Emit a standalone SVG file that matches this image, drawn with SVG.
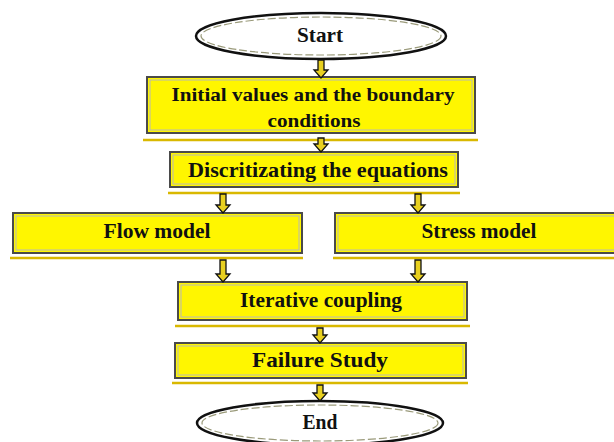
<svg xmlns="http://www.w3.org/2000/svg" width="614" height="442" viewBox="0 0 614 442">
<style>
.box{fill:#FFF600;stroke:#4a4a4a;stroke-width:2}
.inner{fill:none;stroke:#b8b8b8;stroke-width:1}
.shadow{stroke:#D9B800;stroke-width:2.5;fill:none}
.ell{fill:#fff;stroke:#111;stroke-width:2.5}
.ellin{fill:none;stroke:#9a9a7a;stroke-width:1.2;stroke-dasharray:8 3}
.arr{fill:#E8D020;stroke:#111;stroke-width:1.3;stroke-linejoin:miter}
text{font-family:"Liberation Serif","Times New Roman",serif;font-weight:bold;fill:#111;text-anchor:middle;dominant-baseline:central}
</style>
<rect width="614" height="442" fill="#fff"/>
<g id="start">
<ellipse class="ell" cx="321" cy="36" rx="125" ry="23"/>
<ellipse class="ellin" cx="321" cy="36" rx="120" ry="19"/>
<text x="320" y="35" font-size="21" textLength="46" lengthAdjust="spacingAndGlyphs">Start</text>
</g>
<g id="init">
<line class="shadow" x1="143" y1="140" x2="478" y2="140"/>
<rect class="box" x="147" y="77" width="328" height="56"/>
<rect class="inner" x="150" y="80" width="322" height="50"/>
<text x="313" y="94" font-size="19" textLength="283" lengthAdjust="spacingAndGlyphs">Initial values and the boundary</text>
<text x="314" y="120" font-size="19" textLength="93" lengthAdjust="spacingAndGlyphs">conditions</text>
</g>
<g id="discr">
<line class="shadow" x1="168" y1="193" x2="460" y2="193"/>
<rect class="box" x="170" y="152" width="288" height="35"/>
<rect class="inner" x="173" y="155" width="282" height="29"/>
<text x="318" y="170" font-size="21" textLength="260" lengthAdjust="spacingAndGlyphs">Discritizating the equations</text>
</g>
<g id="flow">
<line class="shadow" x1="10" y1="258" x2="303" y2="258"/>
<rect class="box" x="13" y="213" width="289" height="40"/>
<rect class="inner" x="16" y="216" width="283" height="34"/>
<text x="157" y="231" font-size="20" textLength="107" lengthAdjust="spacingAndGlyphs">Flow model</text>
</g>
<g id="stress">
<line class="shadow" x1="333" y1="258" x2="614" y2="258"/>
<rect class="box" x="335" y="213" width="285" height="40"/>
<rect class="inner" x="338" y="216" width="279" height="34"/>
<text x="479" y="231" font-size="20" textLength="115" lengthAdjust="spacingAndGlyphs">Stress model</text>
</g>
<g id="iter">
<line class="shadow" x1="175" y1="326" x2="470" y2="326"/>
<rect class="box" x="178" y="282" width="289" height="38"/>
<rect class="inner" x="181" y="285" width="283" height="32"/>
<text x="321" y="300" font-size="20" textLength="162" lengthAdjust="spacingAndGlyphs">Iterative coupling</text>
</g>
<g id="failure">
<line class="shadow" x1="172" y1="383" x2="468" y2="383"/>
<rect class="box" x="175" y="343" width="291" height="35"/>
<rect class="inner" x="178" y="346" width="285" height="29"/>
<text x="320" y="359" font-size="22" textLength="136" lengthAdjust="spacingAndGlyphs">Failure Study</text>
</g>
<g id="end">
<ellipse class="ell" cx="320" cy="423" rx="123" ry="22"/>
<ellipse class="ellin" cx="320" cy="423" rx="118" ry="18"/>
<text x="320" y="422" font-size="21" textLength="35" lengthAdjust="spacingAndGlyphs">End</text>
</g>
<g id="connectors">
<path class="arr" d="M318 60 L324 60 L324 70 L328 70 L321 78 L314 70 L318 70 Z"/>
<path class="arr" d="M318 138 L324 138 L324 144 L328 144 L321 152 L314 144 L318 144 Z"/>
<path class="arr" d="M220 194 L226 194 L226 205 L230 205 L223 213 L216 205 L220 205 Z"/>
<path class="arr" d="M415 194 L421 194 L421 205 L425 205 L418 213 L411 205 L415 205 Z"/>
<path class="arr" d="M220 260 L226 260 L226 274 L230 274 L223 282 L216 274 L220 274 Z"/>
<path class="arr" d="M415 260 L421 260 L421 274 L425 274 L418 282 L411 274 L415 274 Z"/>
<path class="arr" d="M317 328 L323 328 L323 335 L327 335 L320 343 L313 335 L317 335 Z"/>
<path class="arr" d="M317 385 L323 385 L323 393 L327 393 L320 401 L313 393 L317 393 Z"/>
</g>
</svg>
